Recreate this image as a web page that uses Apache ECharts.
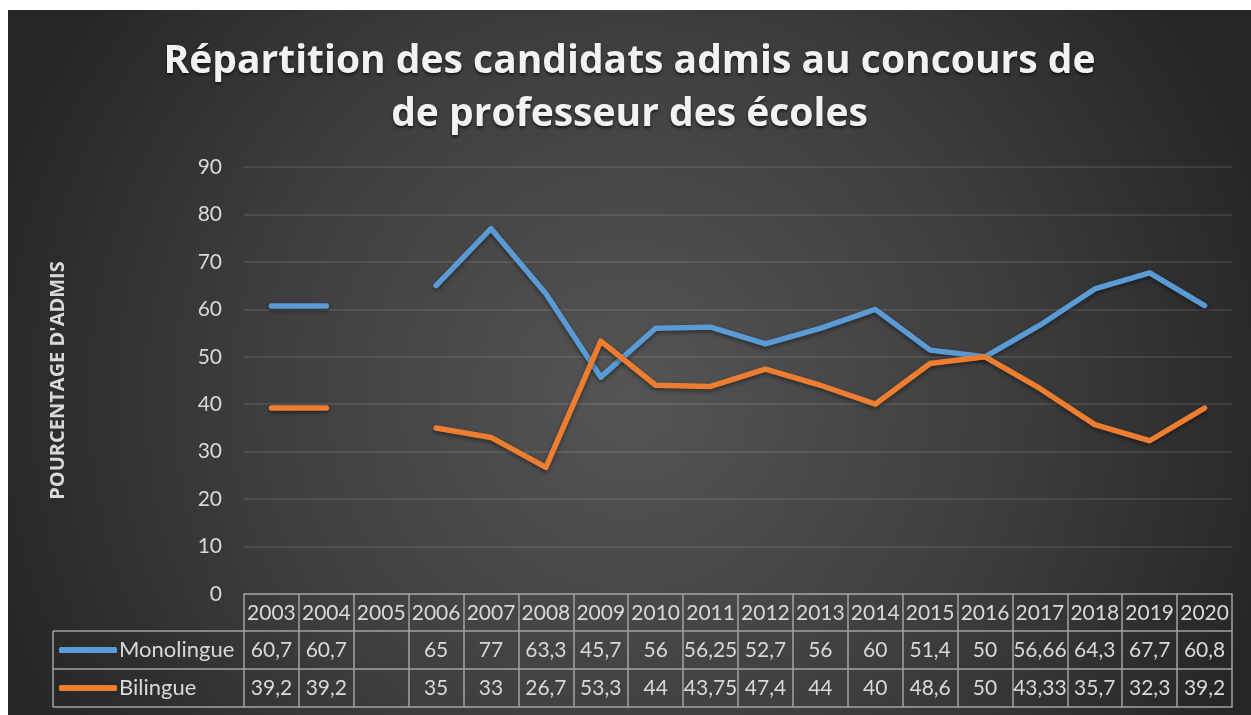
<!DOCTYPE html>
<html>
<head>
<meta charset="utf-8">
<title>Répartition des candidats admis</title>
<script src="https://cdn.jsdelivr.net/npm/echarts@6/dist/echarts.min.js"></script>
<style>
  html, body { margin: 0; padding: 0; background: #fff; }
  #admis-line { position: absolute; left: 8px; top: 10px; width: 1243px; height: 705px; }
</style>
</head>
<body>
<div id="admis-line"></div>
<script>
var year_arr = ['2003','2004','2005','2006','2007','2008','2009','2010','2011','2012','2013','2014','2015','2016','2017','2018','2019','2020'];
var mono_arr = [60.7, 60.7, null, 65, 77, 63.3, 45.7, 56, 56.25, 52.7, 56, 60, 51.4, 50, 56.66, 64.3, 67.7, 60.8];
var bili_arr = [39.2, 39.2, null, 35, 33, 26.7, 53.3, 44, 43.75, 47.4, 44, 40, 48.6, 50, 43.33, 35.7, 32.3, 39.2];

var FONT = 'Lato';
var TXT = '#d9d9d9';
var TABLE_LINE = '#a3a3a3';

// french decimal comma for the data table
var fmt = function (v) {
    return v == null ? '' : String(v).replace('.', ',');
};

var tableAxis = function (offset, labels, showLabel) {
    return {
        type: 'category',
        position: 'bottom',
        offset: offset,
        data: year_arr,
        boundaryGap: true,
        axisLine: { show: true, lineStyle: { color: TABLE_LINE, width: 1.5 } },
        axisTick: { show: showLabel, interval: 0, length: 38, lineStyle: { color: TABLE_LINE, width: 1.5 } },
        axisLabel: {
            show: showLabel,
            interval: 0,
            margin: 19,
            verticalAlign: 'middle',
            color: TXT,
            fontFamily: FONT,
            fontSize: 21,
            formatter: function (val, idx) { return labels[idx]; }
        },
        splitLine: { show: false }
    };
};

var lineSeries = function (name, data, color) {
    return {
        name: name,
        type: 'line',
        data: data,
        xAxisIndex: 0,
        showSymbol: false,
        symbol: 'none',
        connectNulls: false,
        lineStyle: {
            color: color,
            width: 5.5,
            cap: 'round',
            join: 'round',
            shadowColor: 'rgba(0,0,0,0.45)',
            shadowBlur: 4,
            shadowOffsetY: 2
        },
        itemStyle: { color: color }
    };
};

var legendRow = function (name, top) {
    return {
        data: [name],
        left: 51,
        top: top,
        padding: 0,
        icon: 'roundRect',
        itemWidth: 58,
        itemHeight: 6,
        itemGap: 0,
        selectedMode: false,
        textStyle: { color: TXT, fontFamily: FONT, fontSize: 22, lineHeight: 22, padding: [0, 0, 0, -3] }
    };
};

var initChart = function () {
    var chart = echarts.init(document.getElementById('admis-line'));
    chart.setOption({
        backgroundColor: {
            type: 'radial', x: 0.5, y: 0.55, r: 0.95,
            colorStops: [
                { offset: 0, color: '#555555' },
                { offset: 0.55, color: '#3e3e3e' },
                { offset: 1, color: '#262626' }
            ]
        },
        title: {
            text: 'Répartition des candidats admis au concours de\nde professeur des écoles',
            left: 'center',
            top: 20,
            textStyle: {
                color: '#f2f2f2',
                fontFamily: 'Open Sans',
                fontWeight: 'bold',
                fontSize: 39,
                lineHeight: 53,
                textShadowColor: 'rgba(0,0,0,0.6)',
                textShadowBlur: 3,
                textShadowOffsetY: 2
            }
        },
        legend: [legendRow('Monolingue', 629), legendRow('Bilingue', 667)],
        grid: { left: 236, right: 19, top: 157, bottom: 121, containLabel: false },
        xAxis: [
            tableAxis(0, year_arr, true),
            tableAxis(37, mono_arr.map(fmt), true),
            tableAxis(75, bili_arr.map(fmt), true),
            tableAxis(113, year_arr, false)
        ],
        yAxis: {
            type: 'value',
            min: 0,
            max: 90,
            interval: 10,
            name: "POURCENTAGE D'ADMIS",
            nameLocation: 'middle',
            nameRotate: 90,
            nameGap: 176,
            nameTextStyle: { color: TXT, fontFamily: 'Open Sans', fontWeight: 'bold', fontSize: 20 },
            axisLine: { show: false },
            axisTick: { show: false },
            axisLabel: { color: TXT, fontFamily: FONT, fontSize: 21, margin: 22 },
            splitLine: { lineStyle: { color: 'rgba(255,255,255,0.13)', width: 1.5 } }
        },
        graphic: [
            // left part of the data table (legend column)
            { type: 'line', shape: { x1: 45, y1: 621, x2: 236, y2: 621 }, style: { stroke: TABLE_LINE, lineWidth: 1.5 } },
            { type: 'line', shape: { x1: 45, y1: 659, x2: 236, y2: 659 }, style: { stroke: TABLE_LINE, lineWidth: 1.5 } },
            { type: 'line', shape: { x1: 45, y1: 697, x2: 236, y2: 697 }, style: { stroke: TABLE_LINE, lineWidth: 1.5 } },
            { type: 'line', shape: { x1: 45, y1: 621, x2: 45, y2: 697 }, style: { stroke: TABLE_LINE, lineWidth: 1.5 } }
        ],
        series: [
            lineSeries('Monolingue', mono_arr, '#5b9bd5'),
            lineSeries('Bilingue', bili_arr, '#ed7d31')
        ],
        animation: false
    }, true);
    window.addEventListener('resize', function () {
        chart.resize();
    });
};

initChart();
</script>
</body>
</html>
